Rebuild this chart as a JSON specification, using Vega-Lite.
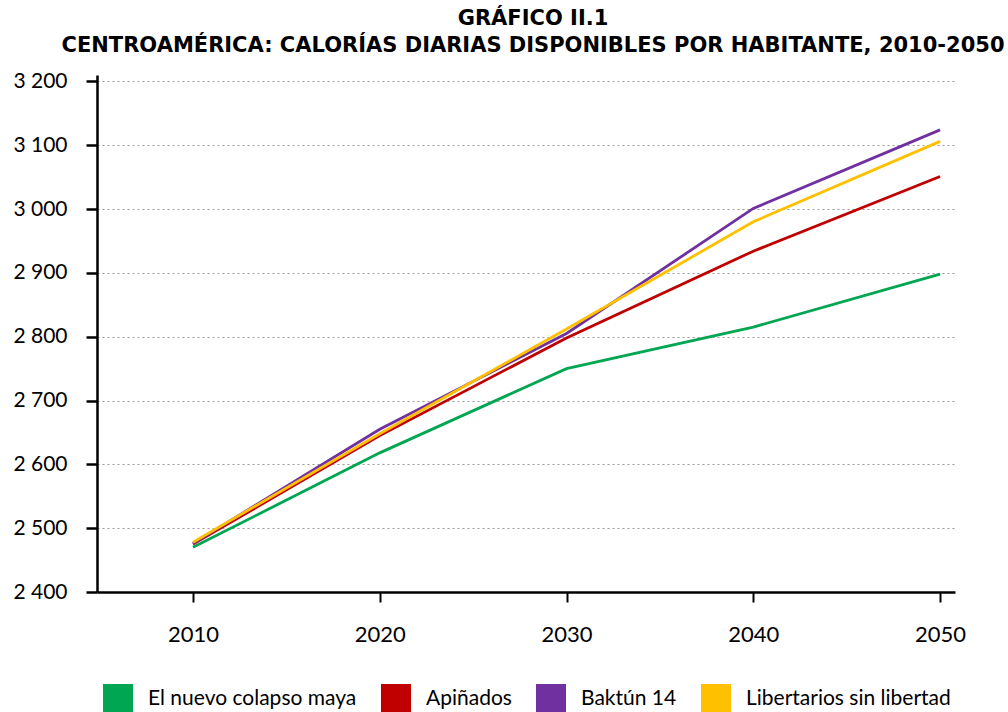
{
  "$schema": "https://vega.github.io/schema/vega-lite/v6.json",
  "width": 858,
  "height": 517,
  "autosize": "none",
  "padding": {"left": 97, "top": 75, "right": 53, "bottom": 120},
  "background": "white",
  "title": {
    "text": ["GRÁFICO II.1", "CENTROAMÉRICA: CALORÍAS DIARIAS DISPONIBLES POR HABITANTE, 2010-2050"],
    "font": "DejaVu Sans",
    "fontSize": 21,
    "fontWeight": "bold",
    "lineHeight": 27,
    "offset": 14,
    "anchor": "middle",
    "dx": 7,
    "color": "black"
  },
  "data": {
    "values": [
      {"year": 2010, "escenario": "El nuevo colapso maya", "cal": 2470},
      {"year": 2020, "escenario": "El nuevo colapso maya", "cal": 2618},
      {"year": 2030, "escenario": "El nuevo colapso maya", "cal": 2750},
      {"year": 2040, "escenario": "El nuevo colapso maya", "cal": 2815},
      {"year": 2050, "escenario": "El nuevo colapso maya", "cal": 2898},
      {"year": 2010, "escenario": "Apiñados", "cal": 2475},
      {"year": 2020, "escenario": "Apiñados", "cal": 2645},
      {"year": 2030, "escenario": "Apiñados", "cal": 2798},
      {"year": 2040, "escenario": "Apiñados", "cal": 2934},
      {"year": 2050, "escenario": "Apiñados", "cal": 3051},
      {"year": 2010, "escenario": "Baktún 14", "cal": 2476},
      {"year": 2020, "escenario": "Baktún 14", "cal": 2655},
      {"year": 2030, "escenario": "Baktún 14", "cal": 2805},
      {"year": 2040, "escenario": "Baktún 14", "cal": 3001},
      {"year": 2050, "escenario": "Baktún 14", "cal": 3124},
      {"year": 2010, "escenario": "Libertarios sin libertad", "cal": 2478},
      {"year": 2020, "escenario": "Libertarios sin libertad", "cal": 2648},
      {"year": 2030, "escenario": "Libertarios sin libertad", "cal": 2812},
      {"year": 2040, "escenario": "Libertarios sin libertad", "cal": 2980},
      {"year": 2050, "escenario": "Libertarios sin libertad", "cal": 3106}
    ]
  },
  "mark": {"type": "line", "strokeWidth": 2.8},
  "encoding": {
    "x": {
      "field": "year",
      "type": "quantitative",
      "scale": {"domain": [2004.86, 2050.8], "nice": false, "zero": false},
      "axis": {
        "title": null,
        "values": [2010, 2020, 2030, 2040, 2050],
        "format": "d",
        "grid": false,
        "domainColor": "black",
        "domainWidth": 2.5,
        "tickColor": "black",
        "tickWidth": 2,
        "tickSize": 10,
        "labelPadding": 22,
        "labelFont": "Lato",
        "labelFontSize": 22,
        "labelColor": "black"
      }
    },
    "y": {
      "field": "cal",
      "type": "quantitative",
      "scale": {"domain": [2400, 3210], "nice": false, "zero": false},
      "axis": {
        "title": null,
        "values": [2400, 2500, 2600, 2700, 2800, 2900, 3000, 3100, 3200],
        "labelExpr": "replace(format(datum.value, ','), ',', ' ')",
        "grid": true,
        "gridColor": "#9a9a9a",
        "gridDash": [2, 3],
        "gridWidth": 1,
        "domainColor": "black",
        "domainWidth": 2.5,
        "tickColor": "black",
        "tickWidth": 2.5,
        "tickSize": 11,
        "labelPadding": 19,
        "labelFont": "Lato",
        "labelFontSize": 21,
        "labelColor": "black"
      }
    },
    "color": {
      "field": "escenario",
      "type": "nominal",
      "scale": {
        "domain": ["El nuevo colapso maya", "Apiñados", "Baktún 14", "Libertarios sin libertad"],
        "range": ["#00a651", "#c00000", "#7030a0", "#ffc000"]
      },
      "legend": {
        "title": null,
        "orient": "none",
        "direction": "horizontal",
        "legendX": 6,
        "legendY": 609,
        "symbolType": "square",
        "symbolSize": 900,
        "symbolStrokeWidth": 0,
        "symbolOpacity": 1,
        "labelFont": "Lato",
        "labelFontSize": 21,
        "labelColor": "black",
        "labelLimit": 400,
        "labelOffset": 15,
        "columnPadding": 24,
        "encode": {
          "symbols": {
            "update": {
              "fill": {"scale": "color", "field": "value"},
              "fillOpacity": {"value": 1},
              "strokeWidth": {"value": 0}
            }
          }
        }
      }
    }
  },
  "config": {"view": {"stroke": null}}
}
